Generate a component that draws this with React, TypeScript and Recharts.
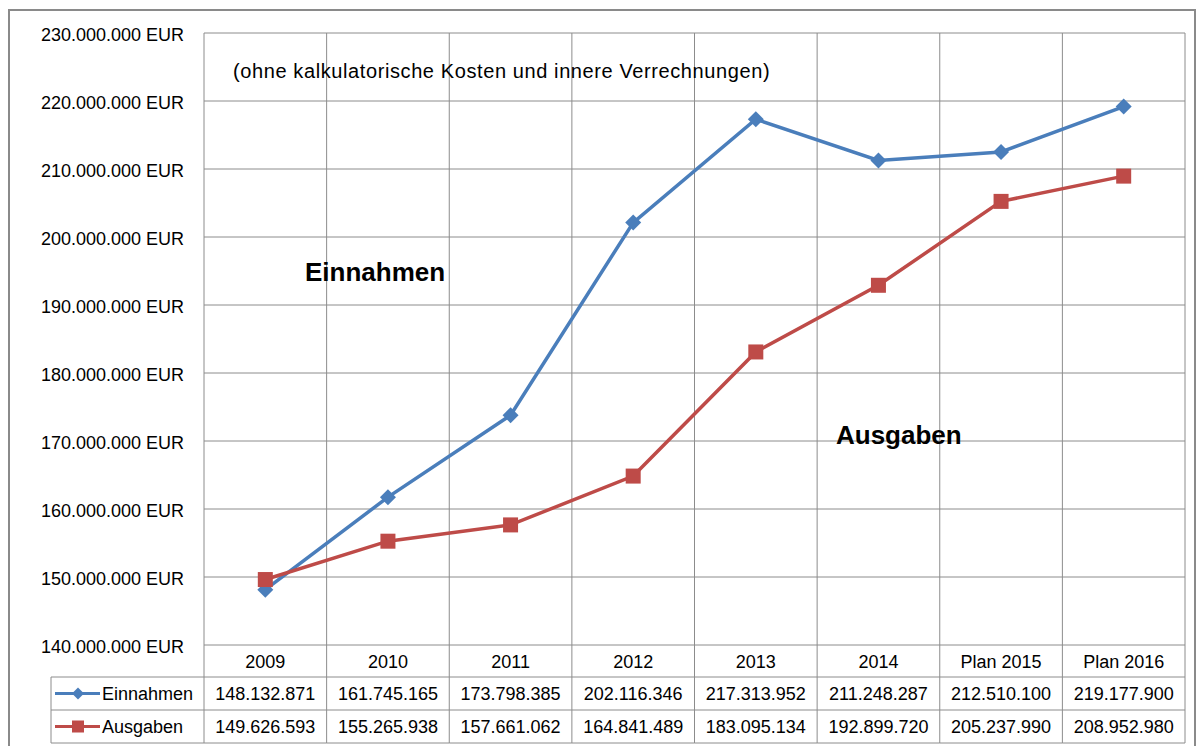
import React from 'react';
import { LineChart, Line, XAxis, YAxis, CartesianGrid } from 'recharts';

// ---------- data ----------
const categories = ['2009', '2010', '2011', '2012', '2013', '2014', 'Plan 2015', 'Plan 2016'];
const einnahmen = [148132871, 161745165, 173798385, 202116346, 217313952, 211248287, 212510100, 219177900];
const ausgaben = [149626593, 155265938, 157661062, 164841489, 183095134, 192899720, 205237990, 208952980];
const yTicks = [140000000, 150000000, 160000000, 170000000, 180000000, 190000000, 200000000, 210000000, 220000000, 230000000];
const seriesNames = ['Einnahmen', 'Ausgaben'];
const subtitle = '(ohne kalkulatorische Kosten und innere Verrechnungen)';

const data = categories.map((c, i) => ({ name: c, pos: i + 0.5, ein: einnahmen[i], aus: ausgaben[i] }));
const boundaryTicks = categories.map((_, i) => i).concat([categories.length]);

// ---------- layout / style ----------
const W = 1197;
const H = 746;
const PLOT_LEFT = 204;
const PLOT_RIGHT = 1185;
const PLOT_TOP = 33;
const PLOT_BOTTOM = 645;
const CELL_W = (PLOT_RIGHT - PLOT_LEFT) / categories.length;
const HEADER_H = 32;
const ROW_H = 33;
const TABLE_LEFT = 51;
const FONT = "'Liberation Sans', Arial, sans-serif";
const GRID = '#8c8c8c';
const BLUE = '#4A7EBB';
const RED = '#BE4B48';

const fmt = (n: number) => String(Math.round(n)).replace(/\B(?=(\d{3})+(?!\d))/g, '.');

const diamondPath = (cx: number, cy: number, r: number) =>
  `M${cx},${cy - r}L${cx + r},${cy}L${cx},${cy + r}L${cx - r},${cy}Z`;

const Diamond = (p: any) => {
  const { cx, cy, index } = p;
  if (cx == null || cy == null) return <g key={`d${index}`} />;
  return <path key={`d${index}`} d={diamondPath(cx, cy, 8)} fill={BLUE} />;
};

const Square = (p: any) => {
  const { cx, cy, index } = p;
  if (cx == null || cy == null) return <g key={`s${index}`} />;
  return <rect key={`s${index}`} x={cx - 7.5} y={cy - 7.5} width={15} height={15} fill={RED} />;
};

const TableTick = (props: any) => {
  const { x, payload } = props;
  const v = payload.value as number;
  const top = PLOT_BOTTOM;
  const r1 = top + HEADER_H;
  const r2 = r1 + ROW_H;
  const r3 = r2 + ROW_H;
  const n = categories.length;
  const textStyle = { fontFamily: FONT, fontSize: 18, fill: '#000' } as any;
  return (
    <g>
      <line x1={x} y1={top} x2={x} y2={r3} stroke={GRID} strokeWidth={1} />
      {v < n && (
        <g>
          <line x1={x} y1={r1} x2={x + CELL_W} y2={r1} stroke={GRID} strokeWidth={1} />
          <line x1={x} y1={r2} x2={x + CELL_W} y2={r2} stroke={GRID} strokeWidth={1} />
          <line x1={x} y1={r3} x2={x + CELL_W} y2={r3} stroke={GRID} strokeWidth={1} />
          <text x={x + CELL_W / 2} y={top + HEADER_H / 2 + 1} textAnchor="middle" dominantBaseline="central" style={textStyle}>
            {categories[v]}
          </text>
          <text x={x + CELL_W / 2} y={r1 + ROW_H / 2} textAnchor="middle" dominantBaseline="central" style={textStyle}>
            {fmt(einnahmen[v])}
          </text>
          <text x={x + CELL_W / 2} y={r2 + ROW_H / 2} textAnchor="middle" dominantBaseline="central" style={textStyle}>
            {fmt(ausgaben[v])}
          </text>
        </g>
      )}
      {v === 0 && (
        <g>
          <line x1={TABLE_LEFT} y1={r1} x2={x} y2={r1} stroke={GRID} strokeWidth={1} />
          <line x1={TABLE_LEFT} y1={r2} x2={x} y2={r2} stroke={GRID} strokeWidth={1} />
          <line x1={TABLE_LEFT} y1={r3} x2={x} y2={r3} stroke={GRID} strokeWidth={1} />
          <line x1={TABLE_LEFT} y1={r1} x2={TABLE_LEFT} y2={r3} stroke={GRID} strokeWidth={1} />
          <line x1={TABLE_LEFT + 4} y1={r1 + ROW_H / 2} x2={TABLE_LEFT + 49} y2={r1 + ROW_H / 2} stroke={BLUE} strokeWidth={3} />
          <path d={diamondPath(TABLE_LEFT + 27, r1 + ROW_H / 2, 6)} fill={BLUE} />
          <line x1={TABLE_LEFT + 4} y1={r2 + ROW_H / 2} x2={TABLE_LEFT + 49} y2={r2 + ROW_H / 2} stroke={RED} strokeWidth={3} />
          <rect x={TABLE_LEFT + 21} y={r2 + ROW_H / 2 - 6} width={12} height={12} fill={RED} />
          <text x={TABLE_LEFT + 51} y={r1 + ROW_H / 2} dominantBaseline="central" style={textStyle}>
            {seriesNames[0]}
          </text>
          <text x={TABLE_LEFT + 51} y={r2 + ROW_H / 2} dominantBaseline="central" style={textStyle}>
            {seriesNames[1]}
          </text>
        </g>
      )}
    </g>
  );
};

export default function App() {
  return (
    <div style={{ position: 'fixed', left: 0, top: 0, width: W, height: H, background: '#fff', overflow: 'hidden' }}>
      <div
        style={{
          position: 'absolute',
          left: 8,
          top: 9,
          width: W - 9,
          height: H,
          boxSizing: 'border-box',
          border: '2px solid #8a8a8a',
          borderBottom: 'none',
        }}
      />
      <div style={{ position: 'absolute', left: 0, top: 0 }}>
        <LineChart
          width={W}
          height={H}
          data={data}
          margin={{ top: PLOT_TOP, right: W - PLOT_RIGHT, bottom: 0, left: 0 }}
        >
          <CartesianGrid stroke={GRID} strokeWidth={1} />
          <XAxis
            dataKey="pos"
            type="number"
            domain={[0, categories.length]}
            ticks={boundaryTicks}
            interval={0}
            axisLine={false}
            tickLine={false}
            tickSize={0}
            tickMargin={0}
            height={H - PLOT_BOTTOM}
            tick={<TableTick />}
          />
          <YAxis
            type="number"
            domain={[yTicks[0], yTicks[yTicks.length - 1]]}
            ticks={yTicks}
            interval={0}
            width={PLOT_LEFT}
            axisLine={false}
            tickLine={false}
            tickSize={0}
            tickMargin={20}
            tickFormatter={(v: number) => `${fmt(v)} EUR`}
            tick={{ fill: '#000', fontSize: 18, fontFamily: FONT, dy: 2 }}
          />
          <Line
            dataKey="ein"
            name={seriesNames[0]}
            stroke={BLUE}
            strokeWidth={3.5}
            dot={<Diamond />}
            activeDot={false}
            isAnimationActive={false}
          />
          <Line
            dataKey="aus"
            name={seriesNames[1]}
            stroke={RED}
            strokeWidth={3.5}
            dot={<Square />}
            activeDot={false}
            isAnimationActive={false}
          />
        </LineChart>
      </div>
      <div style={{ position: 'absolute', left: 233, top: 60, fontFamily: FONT, fontSize: 20, letterSpacing: 0.6, color: '#000', whiteSpace: 'nowrap' }}>
        {subtitle}
      </div>
      <div style={{ position: 'absolute', left: 305, top: 257, fontFamily: FONT, fontSize: 26, fontWeight: 'bold', color: '#000', whiteSpace: 'nowrap' }}>
        {seriesNames[0]}
      </div>
      <div style={{ position: 'absolute', left: 836, top: 420, fontFamily: FONT, fontSize: 26, fontWeight: 'bold', color: '#000', whiteSpace: 'nowrap' }}>
        {seriesNames[1]}
      </div>
    </div>
  );
}
